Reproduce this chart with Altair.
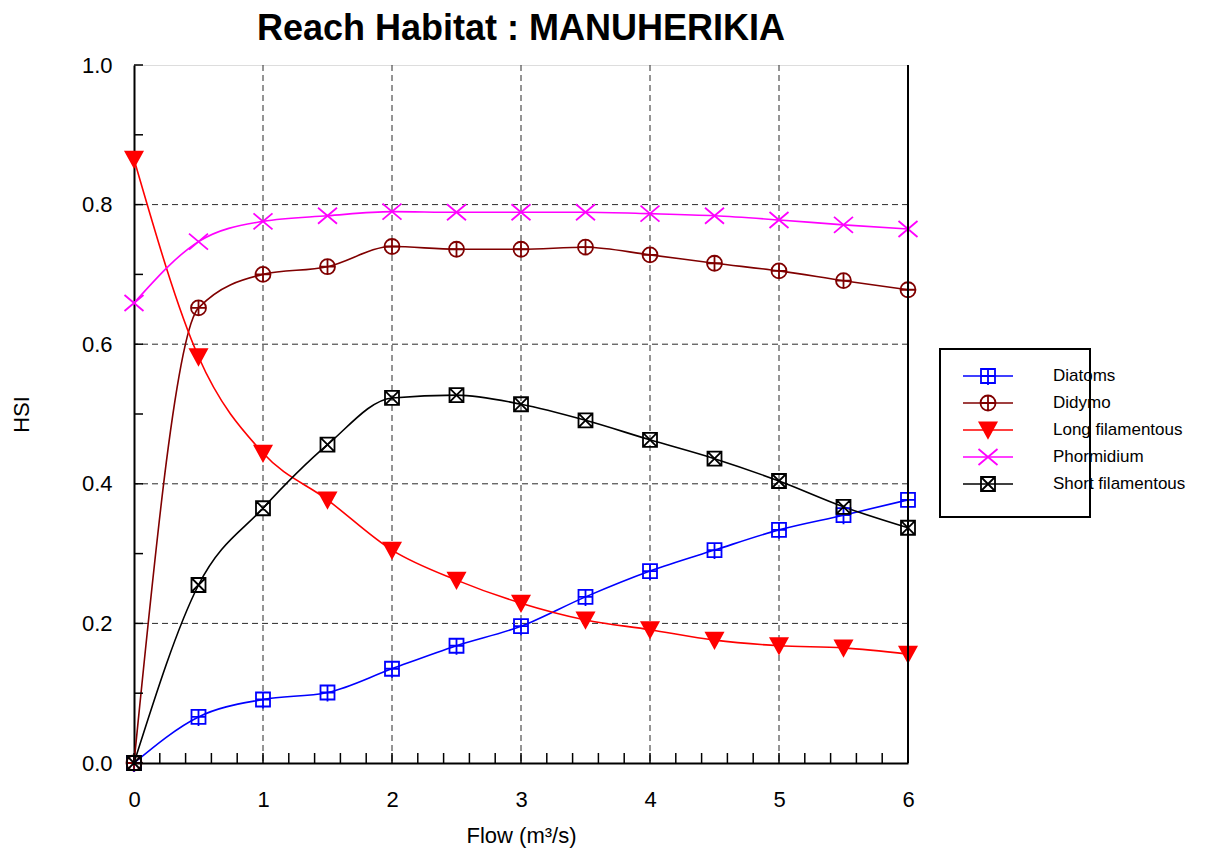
import altair as alt
import pandas as pd

# ---------------- data ----------------
flow = [0, 0.5, 1, 1.5, 2, 2.5, 3, 3.5, 4, 4.5, 5, 5.5, 6]
diatoms = [0.0, 0.066, 0.091, 0.101, 0.135, 0.168, 0.196, 0.238, 0.275, 0.305, 0.334, 0.355, 0.377]
didymo = [0.0, 0.652, 0.700, 0.711, 0.740, 0.736, 0.736, 0.739, 0.728, 0.716, 0.705, 0.691, 0.678]
long_fil = [0.865, 0.582, 0.444, 0.377, 0.305, 0.262, 0.229, 0.205, 0.191, 0.176, 0.168, 0.165, 0.156]
phormidium = [0.659, 0.747, 0.776, 0.784, 0.790, 0.789, 0.789, 0.789, 0.787, 0.784, 0.778, 0.771, 0.765]
short_fil = [0.0, 0.255, 0.365, 0.456, 0.523, 0.527, 0.514, 0.491, 0.463, 0.436, 0.404, 0.367, 0.337]

series_names = ["Diatoms", "Didymo", "Long filamentous", "Phormidium", "Short filamentous"]
series_values = [diatoms, didymo, long_fil, phormidium, short_fil]
series_colors = ["#0000FF", "#800000", "#FF0000", "#FF00FF", "#000000"]
series_fills = ["transparent", "transparent", "#FF0000", "transparent", "transparent"]
series_shapes = [
    "M-0.7,-0.7L0.7,-0.7L0.7,0.7L-0.7,0.7Z M-0.7,0L0.7,0 M0,-0.7L0,0.9",
    "M-0.75,0A0.75,0.75,0,1,1,0.75,0A0.75,0.75,0,1,1,-0.75,0Z M-0.75,0L0.75,0 M0,-0.75L0,0.75",
    "M-0.85,-0.75L0.85,-0.75L0,0.8Z",
    "M-0.95,-0.8L0.95,0.8 M-0.95,0.8L0.95,-0.8",
    "M-0.7,-0.7L0.7,-0.7L0.7,0.7L-0.7,0.7Z M-0.7,-0.7L0.7,0.7 M-0.7,0.7L0.7,-0.7",
]

x_labels = [0, 1, 2, 3, 4, 5, 6]
y_labels = [0.0, 0.2, 0.4, 0.6, 0.8, 1.0]
x_grid = [1, 2, 3, 4, 5]
y_grid = [0.2, 0.4, 0.6, 0.8]
x_minor = [round(i * 0.2, 1) for i in range(31)]
y_minor = [round(i * 0.1, 1) for i in range(11)]

FONT = "Liberation Sans"

rows = []
for name, vals in zip(series_names, series_values):
    for f, v in zip(flow, vals):
        rows.append({"series": name, "flow": f, "hsi": v})
df = pd.DataFrame(rows)

stroke_scale = alt.Scale(domain=series_names, range=series_colors)
fill_scale = alt.Scale(domain=series_names, range=series_fills)
shape_scale = alt.Scale(domain=series_names, range=series_shapes)

x_enc = alt.X(
    "flow:Q",
    scale=alt.Scale(domain=[0, 6], nice=False, zero=False),
    axis=alt.Axis(
        values=x_labels, format="d", ticks=False, grid=False,
        domainColor="black", domainWidth=2,
        labelFont=FONT, labelFontSize=22, labelColor="black",
        labelPadding=26, labelFlush=False, labelOverlap=False,
        title="Flow (m³/s)", titleFont=FONT, titleFontSize=22,
        titleFontWeight="normal", titleColor="black", titlePadding=15,
    ),
)
y_enc = alt.Y(
    "hsi:Q",
    scale=alt.Scale(domain=[0, 1], nice=False),
    axis=alt.Axis(
        values=y_labels, format=".1f", ticks=False, grid=False,
        domainColor="black", domainWidth=2,
        labelFont=FONT, labelFontSize=22, labelColor="black",
        labelPadding=22, labelFlush=False, labelOverlap=False,
        title="HSI", titleFont=FONT, titleFontSize=22,
        titleFontWeight="normal", titleColor="black", titlePadding=48,
    ),
)

grid_x = alt.Chart(pd.DataFrame({"flow": x_grid})).mark_rule(
    color="#2a2a2a", strokeWidth=1, strokeDash=[6, 4]
).encode(x="flow:Q")
grid_y = alt.Chart(pd.DataFrame({"hsi": y_grid})).mark_rule(
    color="#2a2a2a", strokeWidth=1, strokeDash=[6, 4]
).encode(y="hsi:Q")

lines = alt.Chart(df).mark_line(interpolate="monotone", strokeWidth=1.6).encode(
    x=x_enc, y=y_enc,
    stroke=alt.Stroke("series:N", scale=stroke_scale, legend=None),
    detail="series:N",
)
points = alt.Chart(df).mark_point(filled=False, size=400, strokeWidth=1.8, opacity=1).encode(
    x="flow:Q", y="hsi:Q",
    stroke=alt.Stroke("series:N", scale=stroke_scale, legend=None),
    fill=alt.Fill("series:N", scale=fill_scale, legend=None),
    shape=alt.Shape("series:N", scale=shape_scale, legend=None),
)

xticks = alt.Chart(pd.DataFrame({"flow": x_minor})).mark_tick(
    orient="vertical", size=10, thickness=1.5, color="black", yOffset=-5, opacity=1
).encode(x="flow:Q", y=alt.datum(0))
yticks = alt.Chart(pd.DataFrame({"hsi": y_minor})).mark_tick(
    orient="horizontal", size=9, thickness=1.5, color="black", xOffset=4.5, opacity=1
).encode(y="hsi:Q", x=alt.datum(0))

border = alt.Chart(alt.Data(values=[{}])).mark_rule(color="black", strokeWidth=2).encode(
    x=alt.datum(6), y=alt.datum(0), y2=alt.datum(1)
)

main = alt.layer(grid_x, grid_y, lines, points, xticks, yticks, border)

# ---------------- legend (box at the right of the plot) ----------------
legend_df = pd.DataFrame({"series": series_names})
leg_y = alt.Y(
    "series:N",
    scale=alt.Scale(type="point", domain=series_names, range=[311, 419], padding=0),
    axis=None,
)
leg_box = alt.Chart(alt.Data(values=[{}])).mark_rect(
    fill="white", stroke="black", strokeWidth=2
).encode(x=alt.value(806), x2=alt.value(956), y=alt.value(284), y2=alt.value(452))
leg_rule = alt.Chart(legend_df).mark_rule(strokeWidth=1.6).encode(
    x=alt.value(829), x2=alt.value(879), y=leg_y,
    stroke=alt.Stroke("series:N", scale=stroke_scale, legend=None),
)
leg_pts = alt.Chart(legend_df).mark_point(filled=False, size=400, strokeWidth=1.8, opacity=1).encode(
    x=alt.value(854), y=leg_y,
    stroke=alt.Stroke("series:N", scale=stroke_scale, legend=None),
    fill=alt.Fill("series:N", scale=fill_scale, legend=None),
    shape=alt.Shape("series:N", scale=shape_scale, legend=None),
)
leg_text = alt.Chart(legend_df).mark_text(
    align="left", baseline="middle", font=FONT, fontSize=17, color="black"
).encode(x=alt.value(919), y=leg_y, text="series:N")

legend = alt.layer(leg_box, leg_rule, leg_pts, leg_text)

chart = alt.layer(main, legend).resolve_scale(y="independent").properties(
    width=774,
    height=698,
    padding={"left": 126, "top": 57, "right": 280, "bottom": 92},
    autosize=alt.AutoSizeParams(type="none"),
    title=alt.TitleParams(
        text="Reach Habitat : MANUHERIKIA", font=FONT, fontSize=36,
        fontWeight="bold", color="black", anchor="middle", offset=6,
    ),
).configure_view(strokeWidth=0).configure(background="white")

chart.save("out.html", embed_options={"renderer": "svg", "actions": False})
